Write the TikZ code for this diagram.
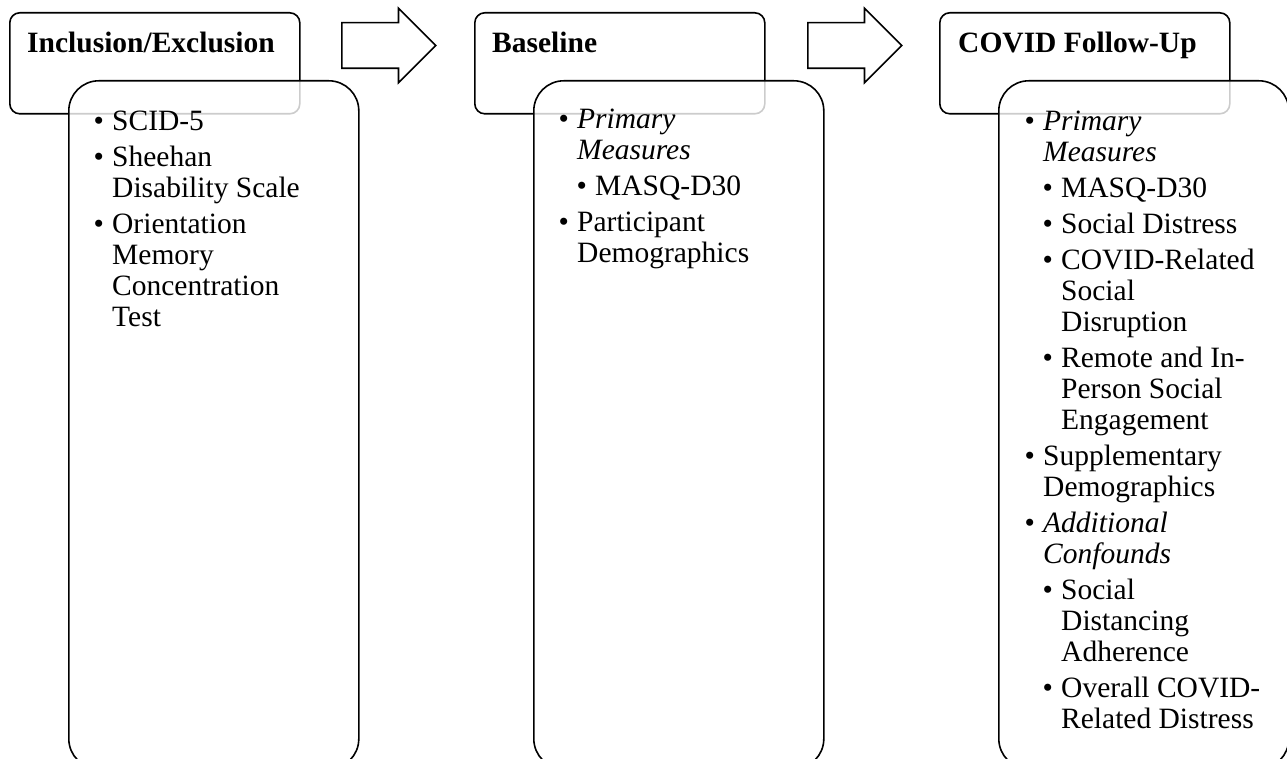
\documentclass[tikz,border=0pt]{standalone}
\usepackage{fontspec}
\setmainfont{Liberation Serif}
\usetikzlibrary{shapes.arrows}

% bullets with a hanging indent
\newcommand{\bul}{\makebox[18.5pt][l]{\textbullet}}
\newcommand{\subbul}{\hspace*{18pt}\bul}
\newcommand{\cont}{\hspace*{18.5pt}}
\newcommand{\subcont}{\hspace*{36.5pt}}

\tikzset{
  headbox/.style={draw, line width=1.6pt, rounded corners=10pt, fill=white,
    anchor=north west, minimum width=290pt, minimum height=101pt, inner sep=0pt},
  listbox/.style={draw, line width=1.6pt, rounded corners=30pt, fill=white, fill opacity=0.8,
    anchor=north west, minimum width=290pt, minimum height=688pt, inner sep=0pt},
  headtitle/.style={anchor=base west, inner sep=0pt, font=\fontsize{29.5}{31}\selectfont\bfseries},
  listtext/.style={anchor=north west, inner sep=0pt, align=left, font=\fontsize{29.5}{31}\selectfont},
  steparrow/.style={single arrow, draw, fill=white, line width=1.6pt, inner xsep=0pt,
    inner ysep=22pt, minimum height=94pt, single arrow head extend=14.5pt, anchor=tail}
}

\begin{document}
\begin{tikzpicture}[x=1pt, y=-1pt]
\useasboundingbox (0,0) rectangle (1287,759);

% Inclusion/Exclusion
\node[headbox] (inchead) at (9,12) {};
\node[headtitle] (inctitle) at (27,53) {Inclusion/Exclusion};
\node[listbox] (incbox) at (68,80) {};
\node[listtext] (inclist) at (93.5,110.5) {%
  \bul SCID-5\\[5pt]
  \bul Sheehan\\
  \cont Disability Scale\\[5pt]
  \bul Orientation\\
  \cont Memory\\
  \cont Concentration\\
  \cont Test};

\node[steparrow] (arr1) at (341,45.5) {};

% Baseline
\node[headbox] (basehead) at (474,12) {};
\node[headtitle] (basetitle) at (492,53) {Baseline};
\node[listbox] (basebox) at (533,80) {};
\node[listtext] (baselist) at (558.5,109) {%
  \bul\textit{Primary}\\
  \cont\textit{Measures}\\[5pt]
  \subbul MASQ-D30\\[5pt]
  \bul Participant\\
  \cont Demographics};

\node[steparrow] (arr2) at (807,45.5) {};

% COVID Follow-Up
\node[headbox] (covhead) at (939,12) {};
\node[headtitle] (covtitle) at (958,53) {COVID Follow-Up};
\node[listbox] (covbox) at (998,80) {};
\node[listtext] (covlist) at (1024.5,110.5) {%
  \bul\textit{Primary}\\
  \cont\textit{Measures}\\[5pt]
  \subbul MASQ-D30\\[5pt]
  \subbul Social Distress\\[5pt]
  \subbul COVID-Related\\
  \subcont Social\\
  \subcont Disruption\\[5pt]
  \subbul Remote and In-\\
  \subcont Person Social\\
  \subcont Engagement\\[5pt]
  \bul Supplementary\\
  \cont Demographics\\[5pt]
  \bul\textit{Additional}\\
  \cont\textit{Confounds}\\[5pt]
  \subbul Social\\
  \subcont Distancing\\
  \subcont Adherence\\[5pt]
  \subbul Overall COVID-\\
  \subcont Related Distress};
\end{tikzpicture}
\end{document}
